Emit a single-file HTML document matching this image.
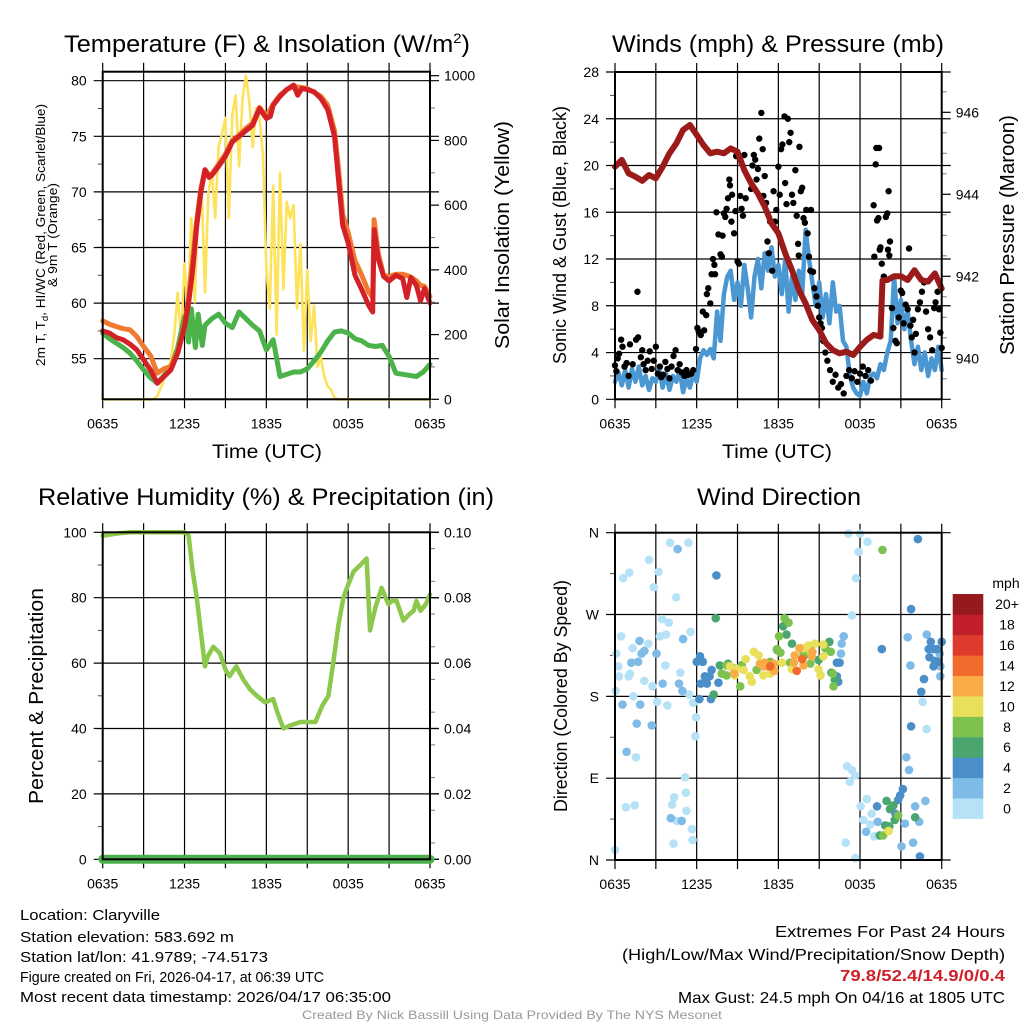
<!DOCTYPE html>
<html><head><meta charset="utf-8"><title>Claryville Meteogram</title>
<style>
html,body{margin:0;padding:0;background:#fff;}
svg{display:block;font-family:"Liberation Sans",sans-serif;}
</style></head>
<body>
<svg id="chart" width="1024" height="1024" viewBox="0 0 1024 1024" xmlns="http://www.w3.org/2000/svg">
<rect width="1024" height="1024" fill="#fff"/>
<g id="p1"></g>
<g id="p2"></g>
<g id="p3"></g>
<g id="p4"></g>
<g font-size="24" text-anchor="middle" fill="#000">
<text x="267" y="52" textLength="406" lengthAdjust="spacingAndGlyphs">Temperature (F) &amp; Insolation (W/m<tspan dy="-9" font-size="14">2</tspan><tspan dy="9">)</tspan></text>
<text x="778" y="52" textLength="332" lengthAdjust="spacingAndGlyphs">Winds (mph) &amp; Pressure (mb)</text>
<text x="266" y="505" textLength="456" lengthAdjust="spacingAndGlyphs">Relative Humidity (%) &amp; Precipitation (in)</text>
<text x="779" y="505" textLength="164" lengthAdjust="spacingAndGlyphs">Wind Direction</text>
</g>
<g font-size="19" text-anchor="middle" fill="#000">
<text x="267" y="458" textLength="110" lengthAdjust="spacingAndGlyphs">Time (UTC)</text>
<text x="777" y="458" textLength="110" lengthAdjust="spacingAndGlyphs">Time (UTC)</text>
<text transform="translate(45,235) rotate(-90)" font-size="13" textLength="262" lengthAdjust="spacingAndGlyphs">2m T, T<tspan dy="3" font-size="9">d</tspan><tspan dy="-3">, HI/WC (Red, Green, Scarlet/Blue)</tspan></text>
<text transform="translate(57,235) rotate(-90)" font-size="13" textLength="104" lengthAdjust="spacingAndGlyphs">&amp; 9m T (Orange)</text>
<text transform="translate(509,235) rotate(-90)" font-size="20" textLength="228" lengthAdjust="spacingAndGlyphs">Solar Insolation (Yellow)</text>
<text transform="translate(566,235) rotate(-90)" font-size="18" textLength="258" lengthAdjust="spacingAndGlyphs">Sonic Wind &amp; Gust (Blue, Black)</text>
<text transform="translate(1014,235) rotate(-90)" font-size="20" textLength="240" lengthAdjust="spacingAndGlyphs">Station Pressure (Maroon)</text>
<text transform="translate(43,696) rotate(-90)" font-size="20" textLength="216" lengthAdjust="spacingAndGlyphs">Percent &amp; Precipitation</text>
<text transform="translate(567,696) rotate(-90)" font-size="18" textLength="232" lengthAdjust="spacingAndGlyphs">Direction (Colored By Speed)</text>
</g>
<g font-size="15" fill="#000">
<text x="20" y="920" textLength="140" lengthAdjust="spacingAndGlyphs">Location: Claryville</text>
<text x="20" y="942" textLength="214" lengthAdjust="spacingAndGlyphs">Station elevation: 583.692 m</text>
<text x="20" y="962" textLength="248" lengthAdjust="spacingAndGlyphs">Station lat/lon: 41.9789; -74.5173</text>
<text x="20" y="982" textLength="304" lengthAdjust="spacingAndGlyphs">Figure created on Fri, 2026-04-17, at 06:39 UTC</text>
<text x="20" y="1002" textLength="371" lengthAdjust="spacingAndGlyphs">Most recent data timestamp: 2026/04/17 06:35:00</text>
<g text-anchor="end">
<text x="1005" y="937" font-size="16" textLength="230" lengthAdjust="spacingAndGlyphs">Extremes For Past 24 Hours</text>
<text x="1005" y="960" font-size="16" textLength="383" lengthAdjust="spacingAndGlyphs">(High/Low/Max Wind/Precipitation/Snow Depth)</text>
<text x="1005" y="981" font-size="16" font-weight="bold" fill="#d0202a" textLength="165" lengthAdjust="spacingAndGlyphs">79.8/52.4/14.9/0/0.4</text>
<text x="1005" y="1003" font-size="16" textLength="327" lengthAdjust="spacingAndGlyphs">Max Gust: 24.5 mph On 04/16 at 1805 UTC</text>
</g>
<text x="512" y="1019" font-size="12" fill="#999" text-anchor="middle" textLength="420" lengthAdjust="spacingAndGlyphs">Created By Nick Bassill Using Data Provided By The NYS Mesonet</text>
</g>
</svg>
<script>
// ---------- DATA ----------
const timeTickLabels = ["0635","1235","1835","0035","0635"];
const tempTicks = [55,60,65,70,75,80];
const solarTicks = [0,200,400,600,800,1000];
const windTicks = [0,4,8,12,16,20,24,28];
const pressTicks = [940,942,944,946];
const rhTicks = [0,20,40,60,80,100];
const precipTickLabels = ["0.00","0.02","0.04","0.06","0.08","0.10"];
const dirTickLabels = ["N","E","S","W","N"];
const speedLabels = ["0","2","4","6","8","10","12","14","16","18","20+"];

const tempRed = [[0,57.5],[0.5,57.3],[1,56.9],[1.5,56.7],[2,56.3],[2.5,55.8],[3,54.9],[3.5,54],[4,52.8],[4.5,53.4],[5,54],[5.5,55.5],[6,57.9],[6.3,60],[6.6,63],[6.9,67],[7.2,70],[7.5,72],[7.8,71.3],[8,71.5],[8.5,72.3],[9,73.2],[9.5,74.5],[10,75],[10.5,75.5],[11,76],[11.5,77.5],[12,76.6],[12.3,76.8],[12.5,77.8],[13,78.6],[13.5,79.2],[14,79.6],[14.3,78.7],[14.6,79.3],[15,79.2],[15.5,79],[16,78.4],[16.5,77.4],[17,75],[17.3,71],[17.6,67],[18,65.4],[18.5,62.5],[19,61.2],[19.5,59.8],[19.8,59.2],[19.9,66.6],[20.2,64],[20.6,62.4],[21,62],[21.5,62.5],[22,62.2],[22.3,60.5],[22.6,62.3],[23,61.6],[23.3,60.2],[23.6,61.3],[24,60]];
const tempOrange = [[0,58.4],[0.5,58.1],[1,57.9],[1.5,57.7],[2,57.6],[2.5,57.0],[3,56.1],[3.5,55.3],[4,53.7],[4.5,54.1],[5,54.3],[5.5,55.6],[6,58],[6.3,60.5],[6.6,64],[6.9,67.5],[7.2,70.3],[7.5,72],[7.8,71.5],[8,71.6],[8.5,72.5],[9,73.4],[9.5,74.6],[10,75.1],[10.5,75.7],[11,76.2],[11.5,77.6],[12,76.8],[12.5,77.9],[13,78.7],[13.5,79.2],[14,79.5],[15,79.3],[16,78.6],[16.5,77.8],[17,75.5],[17.3,72],[17.6,68],[18,66.3],[18.5,63.8],[19,62.5],[19.5,61],[19.8,60.5],[19.9,67.5],[20.2,64.5],[20.6,62.5],[21,62.4],[21.5,62.6],[22,62.6],[22.5,62.4],[23,62],[23.3,61.6],[23.6,61.5],[24,60.6]];
const tempGreen = [[0,57.3],[0.5,56.8],[1,56.4],[1.5,56],[2,55.5],[2.5,54.8],[3,54],[3.5,53.3],[4,52.8],[4.5,53.5],[5,54.2],[5.5,56],[6,58.8],[6.3,56.5],[6.5,59.5],[6.8,56],[7,59],[7.3,56.2],[7.5,58],[8,58.6],[8.5,59.0],[9,58.2],[9.5,57.8],[10,59.2],[10.5,58.6],[11,58],[11.5,57.5],[12,55.8],[12.5,56.7],[13,53.4],[13.5,53.6],[14,53.8],[14.5,53.8],[15,54.1],[15.5,54.8],[16,55.6],[16.5,56.6],[17,57.4],[17.5,57.5],[18,57.3],[18.5,56.8],[19,56.6],[19.5,56.2],[20,56.1],[20.5,56.2],[21,55.2],[21.5,53.7],[22,53.6],[22.5,53.5],[23,53.4],[23.5,53.8],[24,54.5]];
const solar = [[0,0],[3.7,0],[4,10],[4.5,60],[5,121],[5.25,200],[5.5,330],[5.75,180],[6,420],[6.25,280],[6.5,560],[6.75,300],[7,600],[7.25,650],[7.5,330],[7.75,640],[8,700],[8.25,560],[8.5,780],[8.75,820],[9,870],[9.25,560],[9.5,880],[9.75,940],[10,720],[10.25,930],[10.5,1000],[10.75,920],[11,780],[11.25,900],[11.5,870],[11.75,760],[12,400],[12.25,280],[12.5,660],[12.75,200],[13,700],[13.25,340],[13.5,610],[13.75,560],[14,600],[14.25,280],[14.5,480],[14.75,150],[15,400],[15.25,180],[15.5,290],[15.75,100],[16,130],[16.25,70],[16.5,40],[16.75,30],[17,5],[17.25,0],[24,0]];

const sonicWind = [1.5,2.3,1.2,2.5,1.0,2.6,1.5,2.8,1.2,2.0,0.8,1.8,1.5,2.6,1.0,2.2,0.8,2.0,1.5,2.5,0.6,1.8,1.0,2.2,
1.5,3.5,4.2,3.8,4.3,3.5,7.5,5.0,9.0,10.5,11.0,8.5,10.0,8.0,11.5,9.5,7.0,10.5,12.0,9.5,12.5,11.0,13.0,10.5,
11.5,9.0,12.0,7.5,10.5,8.5,11.0,9.0,14.5,12.0,10.0,8.0,10.0,7.0,9.0,6.5,10.0,7.5,8.0,5.0,4.5,2.0,1.0,0.5,
0.3,1.5,0.5,2.0,2.2,1.8,3.0,2.5,4.0,5.0,10.5,6.5,8.5,6.0,7.5,5.0,3.0,4.5,2.5,4.0,2.0,3.5,2.5,4.5,2.5];
const sonicStepHours = 0.25;
const gusts = [[0.0,2.9],[0.1,2.4],[0.2,3.5],[0.3,3.9],[0.45,5.1],[0.55,4.5],[0.7,2.8],[0.85,3.1],[1.0,2.0],[1.1,4.7],[1.3,3.0],[1.55,5.1],[1.65,9.2],[1.7,5.3],[1.9,3.6],[2.0,4.2],[2.1,3.0],[2.25,2.5],[2.4,3.3],[2.55,4.1],[2.7,2.6],[2.85,3.3],[3.0,4.5],[3.15,2.2],[3.3,2.8],[3.4,1.9],[3.55,2.1],[3.7,3.2],[3.85,2.6],[4.0,1.8],[4.15,2.8],[4.3,3.7],[4.45,4.2],[4.6,2.5],[4.75,3.0],[4.9,2.3],[5.1,2.0],[5.25,2.5],[5.4,2.1],[5.6,2.2],[5.75,2.5],[5.95,4.3],
[6.05,6.1],[6.15,5.8],[6.3,5.5],[6.45,7.5],[6.55,5.9],[6.7,7.2],[6.75,9.0],[6.85,9.5],[7.0,8.2],[7.1,10.7],[7.2,12.0],[7.3,11.5],[7.35,10.7],[7.45,16.0],[7.6,14.1],[7.75,12.4],[7.85,12.2],[7.9,14.0],[8.0,15.9],[8.1,15.6],[8.2,16.3],[8.3,17.2],[8.4,18.8],[8.45,18.3],[8.55,15.2],[8.6,17.5],[8.75,14.2],[8.85,16.1],[8.9,20.8],[9.0,11.8],[9.1,11.6],[9.2,17.4],[9.3,16.3],[9.4,15.7],[9.5,20.9],[9.6,17.2],[10.0,18.0],[10.1,20.0],[10.2,20.9],[10.3,20.5],[10.4,18.8],[10.5,19.7],[10.6,22.3],[10.75,24.5],[10.85,21.4],[10.9,17.4],[11.0,19.1],[11.1,16.8],[11.2,13.5],[11.3,12.5],[11.4,15.2],[11.55,11.0],[11.65,17.8],[11.75,15.2],[11.85,16.2],[12.0,19.9],[12.1,17.5],[12.2,21.4],[12.3,21.8],[12.45,24.2],[12.5,18.5],[12.6,16.7],[12.7,24.0],[12.8,22.0],[12.9,22.8],[13.0,17.5],[13.1,16.8],[13.25,19.6],[13.35,15.7],[13.45,13.3],[13.5,12.3],[13.55,21.6],[13.65,17.8],[13.75,18.1],[13.85,15.5],[13.95,15.1],[14.05,16.2],[14.15,14.2],[14.25,12.2],[14.35,11.0],[14.4,16.2],[14.55,10.9],[14.65,9.5],[14.8,8.8],[14.9,8.0],[15.0,7.0],[15.1,6.5],[15.2,6.1],[15.3,5.0],[15.45,4.0],[15.6,3.3],[15.8,2.5],[16.0,1.5],[16.2,2.1],[16.4,1.0],[16.6,1.3],[16.8,0.5],[17.0,2.0],[17.2,2.5],[17.4,1.8],[17.6,2.4],[17.8,1.5],[18.0,2.2],[18.2,2.8],[18.4,2.0],[18.6,2.5],[18.8,1.6],[19.0,16.6],[19.05,12.2],[19.15,20.1],[19.2,21.5],[19.4,21.5],[19.25,15.3],[19.35,15.5],[19.45,12.8],[19.6,11.6],[19.5,13.0],[19.75,10.5],[19.9,15.6],[20.0,15.9],[20.1,17.8],[20.2,13.5],[20.05,12.8],[20.15,12.3],[20.35,7.8],[20.45,6.1],[20.6,5.0],[20.7,4.8],[20.85,7.0],[21.0,9.3],[21.1,9.1],[21.2,6.5],[21.35,8.1],[21.5,7.7],[21.6,12.9],[21.7,6.3],[21.8,5.3],[21.9,6.8],[22.0,4.0],[22.1,5.6],[22.25,7.7],[22.4,8.3],[22.55,9.2],[22.7,10.0],[22.85,7.5],[23.0,6.0],[23.15,5.3],[23.3,4.2],[23.45,7.8],[23.55,8.3],[23.7,9.2],[23.8,7.7],[23.9,5.7],[24.0,4.4]];
const pressure = [[0,944.67],[0.5,944.84],[1,944.51],[1.5,944.43],[2,944.33],[2.5,944.47],[3,944.39],[3.5,944.67],[4,945.0],[4.5,945.24],[5,945.57],[5.5,945.69],[6,945.45],[6.5,945.2],[7,945.0],[7.5,945.04],[8,945.0],[8.5,945.12],[9,945.04],[9.5,944.59],[10,944.27],[10.5,944.02],[11,943.7],[11.5,943.29],[12,943.05],[12.5,942.56],[13,942.15],[13.5,941.67],[14,941.34],[14.5,940.93],[15,940.69],[15.5,940.37],[16,940.2],[16.5,940.12],[17,940.16],[17.5,940.08],[18,940.28],[18.5,940.45],[19,940.57],[19.5,940.53],[19.65,941.9],[20,941.91],[20.5,942.0],[21,942.0],[21.5,941.91],[22,942.15],[22.5,941.91],[23,941.87],[23.5,942.07],[24,941.7]];

const rh = [[0,99],[1,99.6],[2,100],[4,100],[6,100],[6.3,99],[6.6,88],[6.9,80],[7.1,73],[7.5,59],[7.7,62],[8.1,65],[8.6,63],[9.0,58],[9.3,56],[9.8,59],[10.3,55],[10.8,52],[11.3,50],[11.9,48],[12.5,49],[12.8,45],[13.25,40],[13.8,41],[14.5,42],[15.0,42],[15.6,42],[16.1,47],[16.55,50],[16.9,60],[17.3,72],[17.65,80],[18.0,84],[18.4,88],[18.9,90],[19.35,92],[19.6,70],[20,77],[20.45,83],[20.95,78],[21.2,79],[21.55,79],[22.05,73],[22.5,75],[22.8,76],[23.0,79],[23.3,76],[23.7,78],[24,81]];
const precip = [[0,0],[24,0]];

const h0Hours=[0.6,1.05,2.5,2.85,3.2,4.05,5.4,4.5,3.45,3.95,3.3,3.75,5.55,0.45,1.3,2.45,0.1,0.25,0.3,1.1,1.0,2.15,2.75,3.7,4.8,1.35,0.05,3.1,3.85,5.45,5.75,5.95,5.9,1.55,0.8,1.45,4.2,4.35,5.15,5.2,5.25,4.55,5.65,5.7,4.3,0.0,17.15,18.0,18.55,17.9,17.7,17.4,17.05,17.4,17.65,17.25,16.95,17.65,18.05,18.5,18.85,18.25,18.75,19.05,22.9,22.6];
const h0Deg=[310,316,330,300,317,349,349,289,265,261,246,248,251,246,233,238,227,213,202,205,202,197,191,214,206,180,186,174,170,182,173,157,136,113,58,60,61,69,91,74,54,43,34,22,18,11,359,359,350,339,310,269,103,99,93,86,19,2,59,67,51,44,39,26,144,174];
const h2Hours=[4.6,0.55,1.6,2.7,0.85,1.85,1.2,1.7,1.95,2.15,1.8,3.05,3.5,5.0,4.7,4.95,4.1,4.9,16.8,16.65,16.6,21.5,21.7,22.9,21.4,21.6,21.3,22.05,22.35,21.9,22.8,18.45,19.3,21.05,23.9,23.85,23.9];
const h2Deg=[342,171,150,148,119,171,217,218,227,230,241,227,194,243,194,186,46,43,246,238,227,245,214,248,113,99,40,59,42,19,65,31,42,15,202,227,213];
const h4Hours=[7.45,6.25,6.45,6.0,6.6,6.95,6.3,6.75,7.1,7.05,6.2,7.6,16.3,16.5,16.3,16.4,19.6,21.75,22.25,23.2,23.05,23.4,23.65,23.1,23.5,23.75,23.4,22.7,22.5,21.75,24.0,22.4,21.15,20.95,20.8,20.6,19.25];
const h4Deg=[313,224,218,218,202,202,194,194,209,177,177,195,217,217,202,196,232,276,353,240,232,232,232,223,219,218,213,199,185,147,240,4,78,71,66,51,59];
const h6Hours=[7.4,12.35,12.6,7.7,7.85,8.3,7.25,13.0,11.9,13.85,14.35,14.95,15.75,15.9,16.15,19.95,20.2,20.45,19.85,20.55,22.05,19.45,20.15,9.3];
const h6Deg=[266,257,248,214,205,216,182,238,231,224,235,220,240,206,198,65,56,60,38,44,47,27,37,214];
const h8Hours=[19.65,12.45,12.75,12.05,11.9,12.15,7.85,8.2,9.2,9.3,10.4,11.4,13.85,14.2,15.45,15.85,16.05,16.0,20.8,19.7,12.85,14.35,8.2,8.7];
const h8Deg=[341,266,261,246,232,228,205,214,191,213,209,218,227,229,233,229,191,205,49,27,217,216,203,211];
const h10Hours=[8.45,8.95,8.8,9.6,10.2,10.55,10.05,9.9,10.9,12.25,13.0,14.2,14.7,15.3,14.95,15.1,14.4,13.85,20.1,15.3,9.45,11.4];
const h10Deg=[213,210,203,221,229,225,196,202,203,217,210,236,238,237,210,203,229,233,32,224,209,205];
const h12Hours=[8.75,10.65,11.0,11.7,11.65,11.15,13.2,13.55,13.85,13.15,14.5,14.45,10.9];
const h12Deg=[205,216,217,208,216,213,225,233,214,217,229,224,213];
const h14Hours=[13.35,13.75,11.4];
const h14Deg=[208,221,213];
const dirHours = [].concat(h0Hours,h2Hours,h4Hours,h6Hours,h8Hours,h10Hours,h12Hours,h14Hours);
const dirDegrees = [].concat(h0Deg,h2Deg,h4Deg,h6Deg,h8Deg,h10Deg,h12Deg,h14Deg);
const dirSpeeds = [].concat(h0Hours.map(()=>1),h2Hours.map(()=>3),h4Hours.map(()=>5),h6Hours.map(()=>7),h8Hours.map(()=>9),h10Hours.map(()=>11),h12Hours.map(()=>13),h14Hours.map(()=>15));

// ---------- DRAWING ----------
const NS="http://www.w3.org/2000/svg";
const speedColors=["#b6e2f8","#7ebbe6","#4a8fc8","#4aa66e","#7dc24e","#e8e05a","#f8ab47","#f26a2c","#de3a2d","#bf1e2a","#951a1e"];
function mk(parent,tag,attrs){const e=document.createElementNS(NS,tag);for(const k in attrs)e.setAttribute(k,attrs[k]);parent.appendChild(e);return e;}
function lin(d0,d1,r0,r1){return v=>r0+(v-d0)/(d1-d0)*(r1-r0);}

function frame(g,L,R,T,B,xs,vals,ys,labels,name){
  // vertical grid every 3h
  for(let h=0;h<=24;h+=3){
    const x=xs(h);
    const ln=mk(g,'line',{x1:x,x2:x,y1:T-9,y2:B+9,stroke:'#000','stroke-width':1.2});
    
    
  }
  vals.forEach((v,i)=>{
    const y=ys(v);
    const ln=mk(g,'line',{x1:L-9,x2:R+9,y1:y,y2:y,stroke:'#000','stroke-width':1.2});
    
    
    const t=mk(g,'text',{x:L-16,y:y+5,'text-anchor':'end','font-size':14});
    t.textContent=labels[i];
    
    
  });
  for(let i=0;i<vals.length-1;i++){
    const y=ys((vals[i]+vals[i+1])/2);
    const ln=mk(g,'line',{x1:L-5,x2:L,y1:y,y2:y,stroke:'#555','stroke-width':1});
    
    
  }
  timeTickLabels.forEach((lab,i)=>{
    const t=mk(g,'text',{x:xs(i*6),y:B+29,'text-anchor':'middle','font-size':14});
    t.textContent=lab;
    
    
  });
}
function border(g,L,R,T,B){
  const r=mk(g,'rect',{x:L,y:T,width:R-L,height:B-T,fill:'none',stroke:'#000','stroke-width':2});
  
  
}
function rightAxis(g,R,vals,ys,labels,minors,name){
  vals.forEach((v,i)=>{
    const y=ys(v);
    mk(g,'line',{x1:R,x2:R+9,y1:y,y2:y,stroke:'#000','stroke-width':1.2});
    const t=mk(g,'text',{x:R+14,y:y+5,'font-size':14});
    t.textContent=labels[i];
    
    
  });
  minors.forEach(v=>{const y=ys(v);mk(g,'line',{x1:R,x2:R+5,y1:y,y2:y,stroke:'#777','stroke-width':1});});
}
function path(g,pts,xs,ys,color,w,name){
  const d=pts.map((p,i)=>(i?'L':'M')+xs(p[0]).toFixed(1)+','+ys(p[1]).toFixed(1)).join('');
  const e=mk(g,'path',{d:d,fill:'none',stroke:color,'stroke-width':w,'stroke-linejoin':'round','stroke-linecap':'round'});
  
  
  return e;
}

// Panel 1
(function(){
  const g=document.getElementById('p1');
  const L=102.7,R=430,T=71.7,B=399.3;
  const xs=lin(0,24,L,R), ys=lin(80,55,80.7,358.7), ysR=lin(0,1000,B,75.7);
  frame(g,L,R,T,B,xs,tempTicks,ys,tempTicks.map(String),'temp');
  const mn=[];for(let v=100;v<1000;v+=200)mn.push(v);
  rightAxis(g,R,solarTicks,ysR,solarTicks.map(String),mn,'solar');
  path(g,solar,xs,ysR,'#fde25a',2.6,'solar-insolation-line');
  path(g,tempGreen,xs,ys,'#4cb34a',5,'dewpoint-line');
  path(g,tempOrange,xs,ys,'#f07a30',5,'temp-9m-line');
  path(g,tempRed,xs,ys,'#d42027',5,'temp-2m-line');
  border(g,L,R,T,B);
})();

// Panel 2
(function(){
  const g=document.getElementById('p2');
  const L=615,R=941.7,T=72,B=399.3;
  const xs=lin(0,24,L,R), ys=lin(0,28,B,T), ysR=lin(940,946,358.3,112.3);
  frame(g,L,R,T,B,xs,windTicks,ys,windTicks.map(String),'wind');
  rightAxis(g,R,pressTicks,ysR,pressTicks.map(String),[939.5,940.5,941,941.5,942.5,943,943.5,944.5,945,945.5,946.5],'pressure');
  const pts=sonicWind.map((v,i)=>[i*sonicStepHours,v]);
  path(g,pts,xs,ys,'#4b97d2',4.5,'sonic-wind-line');
  gusts.forEach(p=>{
    const c=mk(g,'circle',{cx:xs(p[0]),cy:ys(p[1]),r:3.2,fill:'#000'});
    
    
  });
  path(g,pressure,xs,ysR,'#9b1b1b',6,'pressure-line');
  border(g,L,R,T,B);
})();

// Panel 3
(function(){
  const g=document.getElementById('p3');
  const L=102.7,R=430,T=532.3,B=859.3;
  const xs=lin(0,24,L,R), ys=lin(0,100,B,T);
  frame(g,L,R,T,B,xs,rhTicks,ys,rhTicks.map(String),'humidity');
  const mn=[];for(let v=5;v<100;v+=10)mn.push(v);
  rightAxis(g,R,rhTicks,ys,precipTickLabels,mn,'precip');
  path(g,rh,xs,ys,'#8cc84b',4.5,'relative-humidity-line');
  path(g,precip,xs,ys,'#4cb04c',9,'precipitation-line');
  border(g,L,R,T,B);
})();

// Panel 4
(function(){
  const g=document.getElementById('p4');
  const L=615,R=941.7,T=532.7,B=860;
  const xs=lin(0,24,L,R), ys=lin(0,360,B,T);
  frame(g,L,R,T,B,xs,[0,90,180,270,360],ys,dirTickLabels,'direction');
  dirHours.forEach((h,i)=>{
    const idx=Math.min(10,Math.floor(dirSpeeds[i]/2));
    const c=mk(g,'circle',{cx:xs(h),cy:ys(dirDegrees[i]),r:4.3,fill:speedColors[idx]});
    
    
  });
  border(g,L,R,T,B);
  // colorbar
  const cb=mk(g,'g',{});
  
  
  const top=594,bot=818.7,bh=(bot-top)/11;
  speedColors.forEach((col,i)=>{
    const y=bot-(i+1)*bh;
    const r=mk(cb,'rect',{x:952.7,y:y,width:30.6,height:bh+0.3,fill:col});
    
    
    const t=mk(cb,'text',{x:1007,y:y+bh/2+5,'text-anchor':'middle','font-size':14});
    t.textContent=speedLabels[i];
    
    
  });
  const u=mk(cb,'text',{x:1006,y:588,'text-anchor':'middle','font-size':14});
  u.textContent='mph';
  
  
})();
</script>
</body></html>
